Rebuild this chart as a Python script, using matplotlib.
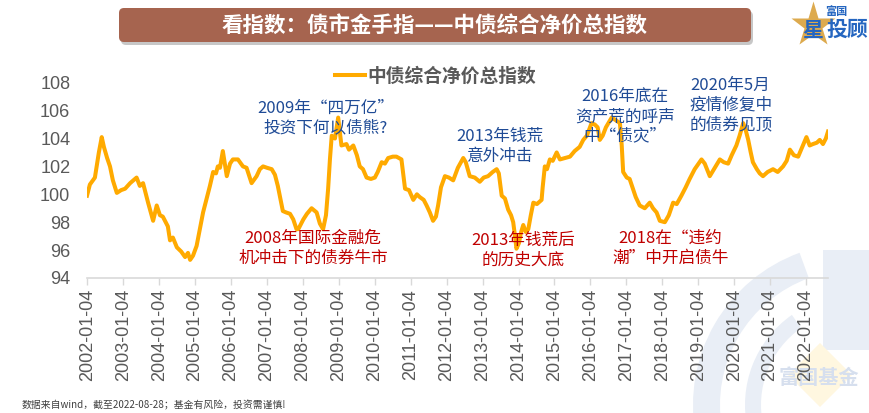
import matplotlib
matplotlib.use("Agg")
import matplotlib.pyplot as plt
from matplotlib.patches import FancyBboxPatch, Wedge, Rectangle, Polygon

# ---------------- data ----------------
series_name = "中债综合净价总指数"
# time as decimal year, value of the index
years = [2002.00, 2002.08, 2002.22, 2002.33, 2002.41, 2002.47, 2002.56, 2002.64, 2002.72, 2002.83,
         2002.95, 2003.06, 2003.20, 2003.38, 2003.47, 2003.56, 2003.70, 2003.84, 2003.94, 2004.03,
         2004.11, 2004.25, 2004.31, 2004.39, 2004.50, 2004.62, 2004.73, 2004.81, 2004.87, 2004.95,
         2005.05, 2005.14, 2005.23, 2005.34, 2005.42, 2005.51, 2005.59, 2005.64, 2005.70, 2005.78,
         2005.89, 2005.98, 2006.06, 2006.20, 2006.34, 2006.44, 2006.58, 2006.72, 2006.81, 2006.90,
         2007.01, 2007.14, 2007.23, 2007.31, 2007.45, 2007.54, 2007.65, 2007.74, 2007.83, 2007.88,
         2008.02, 2008.12, 2008.25, 2008.39, 2008.48, 2008.57, 2008.65, 2008.71, 2008.76, 2008.81,
         2008.90, 2008.99, 2009.08, 2009.22, 2009.29, 2009.41, 2009.51, 2009.59, 2009.68, 2009.78,
         2009.90, 2010.01, 2010.09, 2010.20, 2010.29, 2010.38, 2010.51, 2010.61, 2010.75, 2010.85,
         2010.96, 2011.08, 2011.18, 2011.26, 2011.37, 2011.45, 2011.54, 2011.63, 2011.71, 2011.77,
         2011.85, 2011.96, 2012.07, 2012.19, 2012.32, 2012.47, 2012.54, 2012.65, 2012.79, 2012.93,
         2013.04, 2013.16, 2013.29, 2013.40, 2013.46, 2013.54, 2013.63, 2013.72, 2013.80, 2013.86,
         2013.91, 2013.95, 2014.02, 2014.07, 2014.14, 2014.21, 2014.28, 2014.35, 2014.42, 2014.52,
         2014.65, 2014.68, 2014.74, 2014.80, 2014.88, 2014.96, 2015.07, 2015.16, 2015.30, 2015.44,
         2015.57, 2015.71, 2015.81, 2015.91, 2016.04, 2016.13, 2016.21, 2016.27, 2016.35, 2016.44,
         2016.60, 2016.72, 2016.83, 2016.88, 2016.92, 2017.02, 2017.10, 2017.19, 2017.27, 2017.38,
         2017.52, 2017.66, 2017.75, 2017.85, 2017.94, 2018.08, 2018.19, 2018.31, 2018.41, 2018.54,
         2018.66, 2018.77, 2018.91, 2019.10, 2019.19, 2019.33, 2019.47, 2019.61, 2019.72, 2019.84,
         2019.94, 2020.07, 2020.16, 2020.26, 2020.33, 2020.40, 2020.47, 2020.53, 2020.64, 2020.72,
         2020.81, 2020.94, 2021.09, 2021.22, 2021.37, 2021.47, 2021.56, 2021.67, 2021.79, 2021.89,
         2022.02, 2022.11, 2022.20, 2022.31, 2022.39, 2022.48, 2022.56, 2022.62]
values = [99.9, 100.7, 101.2, 103.0, 104.1, 103.4, 102.6, 102.0, 101.0, 100.1,
          100.3, 100.4, 100.8, 101.2, 100.6, 100.8, 99.4, 98.1, 99.2, 98.5,
          98.4, 97.7, 96.7, 96.9, 96.2, 95.9, 95.5, 95.8, 95.3, 95.6,
          96.3, 97.5, 98.7, 99.8, 100.6, 101.6, 101.5, 102.0, 101.9, 103.1,
          101.3, 102.2, 102.5, 102.5, 102.0, 101.9, 100.8, 101.3, 101.8, 102.0,
          101.9, 101.8, 101.4, 100.6, 98.8, 98.7, 98.6, 98.2, 97.5, 97.5,
          98.2, 98.6, 99.0, 98.7, 97.9, 97.5, 98.5, 100.4, 102.5, 104.2,
          104.0, 105.5, 103.5, 103.6, 103.2, 103.5, 102.8, 102.0, 101.8, 101.2,
          101.1, 101.2, 101.6, 102.3, 102.2, 102.6, 102.7, 102.7, 102.5, 100.4,
          100.3, 99.6, 100.0, 99.8, 99.6, 99.2, 98.7, 98.1, 98.4, 99.2,
          100.5, 101.3, 101.2, 101.0, 101.9, 102.6, 102.3, 101.3, 101.2, 100.9,
          101.2, 101.3, 101.6, 101.8, 101.5, 99.9, 99.7, 98.9, 98.5, 98.0,
          97.0, 96.1, 96.5, 97.2, 97.8, 97.3, 97.5, 98.5, 99.4, 99.3,
          99.6, 100.5, 102.0, 101.8, 102.5, 102.4, 103.0, 102.5, 102.6, 102.7,
          103.1, 103.4, 103.9, 104.2, 105.1, 105.0, 104.8, 103.9, 104.2, 104.8,
          105.5, 105.3, 105.1, 103.5, 101.6, 101.2, 101.1, 100.4, 99.8, 99.2,
          99.0, 99.4, 99.0, 98.7, 98.1, 98.0, 98.5, 99.4, 99.3, 99.9,
          100.5, 101.1, 101.8, 102.5, 102.2, 101.3, 101.9, 102.5, 102.3, 102.2,
          102.8, 103.5, 104.2, 105.1, 104.6, 103.9, 103.0, 102.3, 101.8, 101.5,
          101.3, 101.6, 101.8, 101.6, 102.0, 102.4, 103.2, 102.8, 102.7, 103.3,
          104.1, 103.5, 103.6, 103.7, 103.9, 103.6, 104.0, 104.5]
tick_years = list(range(2002, 2023))
tick_labels = [f"{y}-01-04" for y in tick_years]
y_ticks = [94, 96, 98, 100, 102, 104, 106, 108]

annotations = [
    ("2009年“四万亿”\n投资下何以债熊?", 2008.65, 105.45, "blue"),
    ("2013年钱荒\n意外冲击", 2013.49, 103.44, "blue"),
    ("2016年底在\n资产荒的呼声\n中“债灾”", 2016.97, 105.59, "blue"),
    ("2020年5月\n疫情修复中\n的债券见顶", 2019.91, 106.38, "blue"),
    ("2008年国际金融危\n机冲击下的债券牛市", 2008.29, 96.13, "red"),
    ("2013年钱荒后\n的历史大底", 2014.13, 95.99, "red"),
    ("2018在“违约\n潮”中开启债牛", 2018.24, 96.13, "red"),
]
title = "看指数：债市金手指——中债综合净价总指数"
footer = "数据来自wind，截至2022-08-28；基金有风险，投资需谨慎!"

# ---------------- styling ----------------
CJK = ["Noto Sans CJK SC", "DejaVu Sans"]
plt.rcParams["font.family"] = CJK
W, H = 870, 413
LINE = "#FFAA00"
BLUE = "#1F4B96"
RED = "#C00000"
GRAY = "#595959"

fig = plt.figure(figsize=(W / 100, H / 100), dpi=100)
fig.patch.set_facecolor("white")

# background overlay in pixel coordinates
bg = fig.add_axes([0, 0, 1, 1], zorder=0)
bg.set_xlim(0, W)
bg.set_ylim(H, 0)
bg.axis("off")

# watermark (pale logo, bottom right)
wm = "#E9EEF6"
bg.add_patch(Wedge((855, 405), 162, 90, 250, width=27, facecolor=wm, edgecolor="none"))
bg.add_patch(Wedge((855, 405), 110, 100, 235, width=16, facecolor=wm, edgecolor="none"))
bg.add_patch(Rectangle((823, 250), 47, 100, facecolor=wm, edgecolor="none"))
bg.add_patch(Polygon([(820, 343), (852, 375), (820, 407), (788, 375)], closed=True,
                     facecolor="#FFF7E0", edgecolor="none"))
bg.text(819, 378, "富国基金", fontsize=14.5, fontweight="bold", color="#D6DFEE",
        ha="center", va="center", family=CJK)

# title banner
bg.add_patch(FancyBboxPatch((121, 11), 632, 34, boxstyle="round,pad=0,rounding_size=5",
                            facecolor="#9A9A9A", edgecolor="none", alpha=0.55))
bg.add_patch(FancyBboxPatch((119, 8), 632, 34, boxstyle="round,pad=0,rounding_size=5",
                            facecolor="#A6644F", edgecolor="none"))
bg.text(435, 25.5, title, fontsize=15.5, fontweight="bold", color="white",
        ha="center", va="center", family=CJK)

# logo top right
bg.plot([813], [25], marker="*", markersize=34, color="#DDAA4E", markeredgecolor="none")
bg.text(836, 11, "富国", fontsize=8, fontweight="bold", color="#2566C0", ha="center", va="center")
bg.text(813, 30, "星", fontsize=15, fontweight="bold", color="#2566C0", ha="center", va="center")
bg.text(847, 29, "投顾", fontsize=15, fontweight="bold", color="#2566C0", ha="center", va="center")

# footer
bg.text(22, 405, footer, fontsize=7.1, color="#404040", ha="left", va="center", family=CJK)

# ---------------- main chart ----------------
left, right = 87 / W, 828 / W
bottom, top = 1 - 278 / H, 1 - 82.7 / H
ax = fig.add_axes([left, bottom, right - left, top - bottom], zorder=1)
ax.set_facecolor("none")

ax.plot(years, values, color=LINE, linewidth=2.9, solid_joinstyle="round",
        label=series_name)

ax.set_xlim(2002.0, 2022.62)
ax.set_ylim(94, 108)
ax.set_yticks(y_ticks)
ax.set_yticklabels([str(v) for v in y_ticks], family=["Liberation Sans", "DejaVu Sans"],
                   fontsize=13, color=GRAY)
ax.set_xticks([y + 3 / 365 for y in tick_years])
ax.set_xticklabels(tick_labels, rotation=90, family=["Liberation Sans", "DejaVu Sans"],
                   fontsize=13, color=GRAY)
ax.tick_params(axis="y", length=0, pad=12)
ax.tick_params(axis="x", length=5, width=1, color="#D9D9D9", pad=3, direction="out")
for s in ["top", "right", "left"]:
    ax.spines[s].set_visible(False)
ax.spines["bottom"].set_color("#D9D9D9")
ax.spines["bottom"].set_linewidth(1.2)

leg = ax.legend(loc="center", bbox_to_anchor=(435.5 / W, 1 - 76 / H),
                bbox_transform=fig.transFigure, frameon=False,
                handlelength=1.6, handletextpad=0.15,
                prop={"family": CJK, "size": 13.5, "weight": "bold"})
for t in leg.get_texts():
    t.set_color(GRAY)

for txt, x, y, c in annotations:
    ax.text(x, y, txt, ha="center", va="center", fontsize=12, linespacing=1.2,
            color=BLUE if c == "blue" else RED, family=CJK)

fig.savefig("out.png", dpi=100, facecolor="white")
